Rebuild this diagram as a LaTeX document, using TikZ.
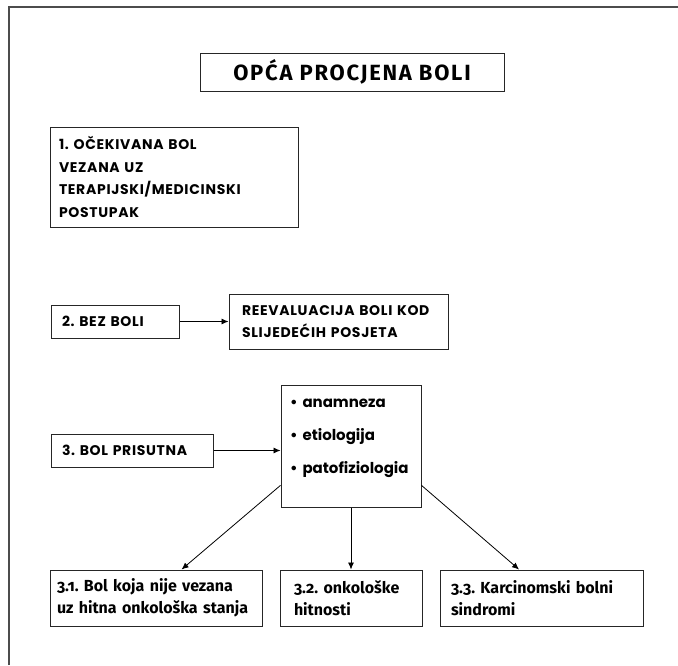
\documentclass[tikz,border=0pt]{standalone}
\usepackage{fontspec}
\setmainfont{Poppins}
\newfontfamily\capsfont[LetterSpace=5]{Poppins}
\newfontfamily\titlefont[LetterSpace=8]{Fira Sans}
\newfontfamily\firafont[Numbers=OldStyle]{Fira Sans}
\usetikzlibrary{arrows.meta,calc}
\frenchspacing

\begin{document}
\begin{tikzpicture}[x=1pt,y=-1pt]
    \tikzstyle{box}=[draw=black!85,line width=1pt,inner ysep=0pt,align=left]
    \tikzstyle{caps}=[font=\capsfont\fontsize{14}{22.5}\selectfont\bfseries]
    \tikzstyle{lower}=[font=\firafont\fontsize{16}{22}\selectfont\bfseries]
    \tikzstyle{arr}=[line width=0.8pt,-{Latex[length=7pt,width=6pt]}]
    \useasboundingbox (0,0) rectangle (678,665);
    % frame, only top and left edge
    \draw[line width=1.5pt,black!70] (9,665) -- (9,7) -- (678,7);
    \node[box,font=\titlefont\fontsize{22}{24}\selectfont\bfseries,minimum width=304pt,minimum height=38pt]
      (title) at (352,72) {OPĆA PROCJENA BOLI};
    \node[box,caps,inner xsep=9pt,text width=230pt,minimum height=100pt] (expected) at (174,177)
      {1. OČEKIVANA BOL\\VEZANA UZ\\TERAPIJSKI/MEDICINSKI\\POSTUPAK};
    \node[box,caps,inner xsep=11pt,text width=106pt,minimum height=33pt] (nopain) at (115,321.5)
      {2. BEZ BOLI};
    \node[box,caps,inner xsep=13pt,text width=193pt,minimum height=55pt] (reeval) at (338.5,321.5)
      {REEVALUACIJA BOLI KOD\\SLIJEDEĆIH POSJETA};
    \node[box,caps,inner xsep=11pt,text width=140pt,minimum height=33pt] (present) at (132,450.5)
      {3. BOL PRISUTNA};
    \node[box,font=\fontsize{15}{33}\selectfont\bfseries,inner xsep=9pt,text width=122pt,minimum height=122pt]
      (lst) at (351,446)
      {•~anamneza\\•~etiologija\\•~patofiziologia\rule[-20pt]{0pt}{0pt}};
    \node[box,lower,inner xsep=7pt,text width=198pt,minimum height=56pt] (c31) at (156,598)
      {3.1. Bol koja nije vezana\\uz hitna onkološka stanja};
    \node[box,lower,inner xsep=14pt,text width=114pt,minimum height=56pt] (c32) at (351,598)
      {3.2. onkološke\\hitnosti};
    \node[box,lower,inner xsep=11pt,text width=181pt,minimum height=56pt] (c33) at (541.5,598)
      {3.3. Karcinomski bolni\\sindromi};
    \draw[arr] (nopain.east) -- (reeval.west |- nopain.east);
    \draw[arr] (present.east) -- (lst.west |- present.east);
    \draw[arr] ($(lst.south west)!0.18!(lst.north west)$) -- ($(c31.north west)!0.62!(c31.north east)$);
    \draw[arr] (lst.south) -- (c32.north);
    \draw[arr] ($(lst.south east)!0.18!(lst.north east)$) -- ($(c33.north west)!0.39!(c33.north east)$);
\end{tikzpicture}
\end{document}
